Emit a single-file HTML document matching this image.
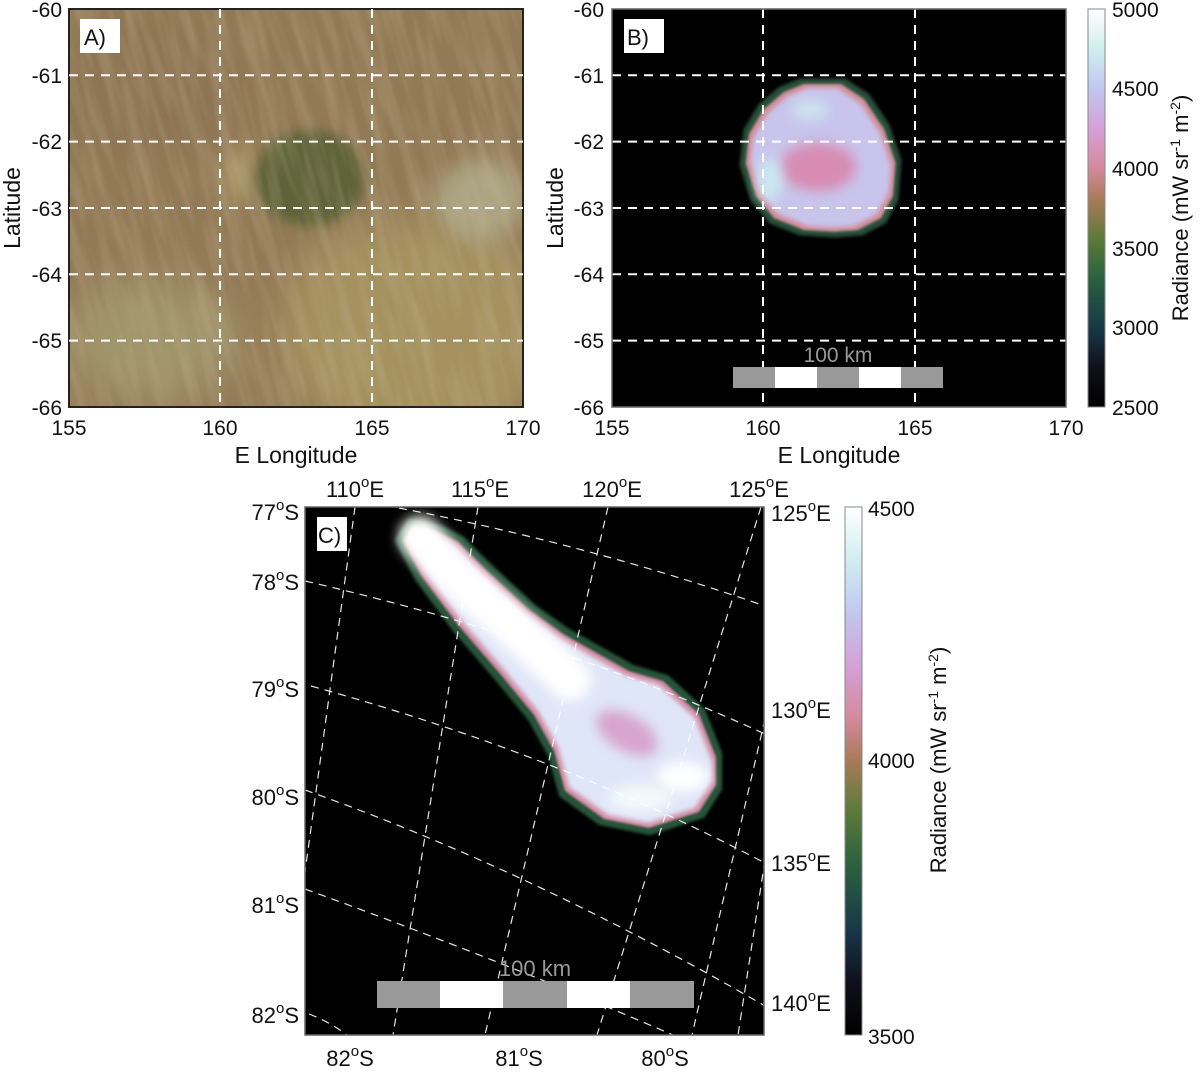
<!DOCTYPE html>
<html><head><meta charset="utf-8"><style>
html,body{margin:0;padding:0;background:#fff}
svg{display:block}
text{font-family:"Liberation Sans",Arial,sans-serif;fill:#111}
</style></head><body>
<svg width="1200" height="1073" viewBox="0 0 1200 1073" xmlns="http://www.w3.org/2000/svg">
<defs>
<filter id="b20" x="-50%" y="-50%" width="200%" height="200%"><feGaussianBlur stdDeviation="20"/></filter>
<filter id="b10" x="-50%" y="-50%" width="200%" height="200%"><feGaussianBlur stdDeviation="10"/></filter>
<filter id="b6" x="-50%" y="-50%" width="200%" height="200%"><feGaussianBlur stdDeviation="6"/></filter>
<filter id="b2" x="-20%" y="-20%" width="140%" height="140%"><feGaussianBlur stdDeviation="1.5"/></filter>
<filter id="er6" x="-20%" y="-20%" width="140%" height="140%"><feMorphology operator="erode" radius="8"/><feGaussianBlur stdDeviation="2.5"/></filter>
<filter id="er3" x="-20%" y="-20%" width="140%" height="140%"><feMorphology operator="erode" radius="4"/><feGaussianBlur stdDeviation="1.2"/></filter>
<filter id="streak" x="0" y="0" width="100%" height="100%">
<feTurbulence type="fractalNoise" baseFrequency="0.09 0.012" numOctaves="2" seed="3"/>
<feColorMatrix type="matrix" values="0 0 0 0 0.6  0 0 0 0 0.5  0 0 0 0 0.35  0 0 0 1.2 -0.45"/>
</filter>
<clipPath id="cA"><rect x="69" y="9" width="454" height="398"/></clipPath>
<clipPath id="cB"><rect x="612" y="9" width="454" height="398"/></clipPath>
<clipPath id="cC"><rect x="305" y="507" width="459" height="528"/></clipPath>
<linearGradient id="cbB" x1="0" y1="1" x2="0" y2="0">
<stop offset="0" stop-color="#000"/>
<stop offset="0.1" stop-color="#10101c"/>
<stop offset="0.2" stop-color="#183848"/>
<stop offset="0.32" stop-color="#2a6040"/>
<stop offset="0.42" stop-color="#5a7a38"/>
<stop offset="0.52" stop-color="#a87a58"/>
<stop offset="0.6" stop-color="#d48a9c"/>
<stop offset="0.7" stop-color="#d6a0d8"/>
<stop offset="0.8" stop-color="#c0c8f0"/>
<stop offset="0.9" stop-color="#d0eef0"/>
<stop offset="1" stop-color="#ffffff"/>
</linearGradient>
</defs>

<!-- Panel A -->
<g clip-path="url(#cA)">
<rect x="69" y="9" width="454" height="398" fill="#937a56"/>
<ellipse cx="420" cy="330" rx="140" ry="110" fill="#a5925e" filter="url(#b20)"/>
<ellipse cx="150" cy="340" rx="90" ry="60" fill="#a0946a" filter="url(#b20)"/>
<ellipse cx="480" cy="200" rx="45" ry="40" fill="#aca482" filter="url(#b10)"/>
<ellipse cx="240" cy="175" rx="16" ry="28" fill="#ad9a6c" filter="url(#b10)"/>
<ellipse cx="150" cy="90" rx="90" ry="70" fill="#8e7452" filter="url(#b20)"/>
<ellipse cx="310" cy="178" rx="55" ry="48" fill="#5e6339" filter="url(#b6)"/>
<g transform="rotate(-15 296 208)"><rect x="0" y="-100" width="600" height="600" filter="url(#streak)" opacity="0.5"/></g>
</g>
<rect x="69" y="9" width="454" height="398" fill="none" stroke="#222" stroke-width="2"/>
<g stroke="#fff" stroke-width="2" stroke-dasharray="9 7" fill="none">
<line x1="220" y1="9" x2="220" y2="407"/><line x1="372" y1="9" x2="372" y2="407"/>
<line x1="69" y1="75.3" x2="523" y2="75.3"/><line x1="69" y1="141.6" x2="523" y2="141.6"/>
<line x1="69" y1="208" x2="523" y2="208"/><line x1="69" y1="274.3" x2="523" y2="274.3"/>
<line x1="69" y1="340.6" x2="523" y2="340.6"/>
</g>
<rect x="80" y="19" width="40" height="34" fill="#fff"/>
<text x="84" y="45" font-size="22">A)</text>
<g font-size="21" text-anchor="end">
<text x="62" y="17">-60</text><text x="62" y="83">-61</text><text x="62" y="149">-62</text>
<text x="62" y="216">-63</text><text x="62" y="282">-64</text><text x="62" y="348">-65</text><text x="62" y="415">-66</text>
</g>
<g font-size="21" text-anchor="middle">
<text x="69" y="435">155</text><text x="220" y="435">160</text><text x="372" y="435">165</text><text x="523" y="435">170</text>
</g>
<text x="296" y="463" font-size="23" text-anchor="middle">E Longitude</text>
<text transform="translate(20,208) rotate(-90)" font-size="23" text-anchor="middle">Latitude</text>

<!-- Panel B -->
<rect x="612" y="9" width="454" height="398" fill="#000"/>
<g clip-path="url(#cB)">
<path id="blob" d="M800,80 L845,80 L868,95 L888,125 L900,160 L897,200 L885,222 L862,234 L835,236 L800,234 L770,222 L752,200 L741,165 L745,130 L760,105 L780,88 Z" fill="#27523a" stroke="#2a4a38" stroke-width="3" filter="url(#b2)"/>
<path d="M800,80 L845,80 L868,95 L888,125 L900,160 L897,200 L885,222 L862,234 L835,236 L800,234 L770,222 L752,200 L741,165 L745,130 L760,105 L780,88 Z" fill="#d28c96" filter="url(#er3)"/>
<path d="M800,80 L845,80 L868,95 L888,125 L900,160 L897,200 L885,222 L862,234 L835,236 L800,234 L770,222 L752,200 L741,165 L745,130 L760,105 L780,88 Z" fill="#c8c4ec" filter="url(#er6)"/>
<ellipse cx="818" cy="167" rx="38" ry="24" fill="#d88cb4" filter="url(#b6)"/>
<ellipse cx="770" cy="180" rx="12" ry="22" fill="#cce8f0" filter="url(#b6)"/>
<ellipse cx="810" cy="110" rx="18" ry="10" fill="#cce4f0" filter="url(#b6)"/>
</g>
<g stroke="#fff" stroke-width="2" stroke-dasharray="9 7" fill="none">
<line x1="763" y1="9" x2="763" y2="407"/><line x1="915" y1="9" x2="915" y2="407"/>
<line x1="612" y1="75.3" x2="1066" y2="75.3"/><line x1="612" y1="141.6" x2="1066" y2="141.6"/>
<line x1="612" y1="208" x2="1066" y2="208"/><line x1="612" y1="274.3" x2="1066" y2="274.3"/>
<line x1="612" y1="340.6" x2="1066" y2="340.6"/>
</g>
<rect x="733" y="367" width="42" height="21" fill="#999"/><rect x="775" y="367" width="42" height="21" fill="#fff"/>
<rect x="817" y="367" width="42" height="21" fill="#999"/><rect x="859" y="367" width="42" height="21" fill="#fff"/>
<rect x="901" y="367" width="42" height="21" fill="#999"/>
<text x="838" y="362" font-size="21" text-anchor="middle" style="fill:#999">100 km</text>
<rect x="612" y="9" width="454" height="398" fill="none" stroke="#666" stroke-width="1.5"/>
<rect x="624" y="19" width="40" height="34" fill="#fff"/>
<text x="627" y="45" font-size="22">B)</text>
<g font-size="21" text-anchor="end">
<text x="604" y="17">-60</text><text x="604" y="83">-61</text><text x="604" y="149">-62</text>
<text x="604" y="216">-63</text><text x="604" y="282">-64</text><text x="604" y="348">-65</text><text x="604" y="415">-66</text>
</g>
<g font-size="21" text-anchor="middle">
<text x="612" y="435">155</text><text x="763" y="435">160</text><text x="915" y="435">165</text><text x="1066" y="435">170</text>
</g>
<text x="839" y="463" font-size="23" text-anchor="middle">E Longitude</text>
<text transform="translate(563,208) rotate(-90)" font-size="23" text-anchor="middle">Latitude</text>
<rect x="1088" y="9" width="17" height="398" fill="url(#cbB)" stroke="#888" stroke-width="1"/>
<g font-size="21">
<text x="1112" y="17">5000</text><text x="1112" y="96">4500</text><text x="1112" y="176">4000</text>
<text x="1112" y="256">3500</text><text x="1112" y="335">3000</text><text x="1112" y="415">2500</text>
</g>
<text transform="translate(1188,208) rotate(-90)" font-size="22" text-anchor="middle">Radiance (mW sr<tspan font-size="14" dy="-8">-1</tspan><tspan dy="8"> m</tspan><tspan font-size="14" dy="-8">-2</tspan><tspan dy="8">)</tspan></text>

<!-- Panel C -->
<rect x="305" y="507" width="459" height="528" fill="#000"/>
<g clip-path="url(#cC)">
<path d="M410,521 L440,527 L462,538 L490,566 L533,606 L567,630 L633,667 L667,677 L703,710 L720,753 L720,789 L703,816 L650,833 L600,823 L561,795 L550,755 L530,719 L497,679 L454,629 L417,579 L397,540 Z" fill="#244e36" stroke="#2a5a3c" stroke-width="4" filter="url(#b2)"/>
<path d="M410,521 L440,527 L462,538 L490,566 L533,606 L567,630 L633,667 L667,677 L703,710 L720,753 L720,789 L703,816 L650,833 L600,823 L561,795 L550,755 L530,719 L497,679 L454,629 L417,579 L397,540 Z" fill="#d48ca4" filter="url(#er3)"/>
<path d="M410,521 L440,527 L462,538 L490,566 L533,606 L567,630 L633,667 L667,677 L703,710 L720,753 L720,789 L703,816 L650,833 L600,823 L561,795 L550,755 L530,719 L497,679 L454,629 L417,579 L397,540 Z" fill="#dfe6f8" filter="url(#er6)"/>
<polyline points="420,537 460,580 520,633 570,680" fill="none" stroke="#fff" stroke-width="42" stroke-linecap="round" filter="url(#b6)"/>
<ellipse cx="627" cy="733" rx="34" ry="18" transform="rotate(30 627 733)" fill="#d8a4d0" filter="url(#b6)"/>
<ellipse cx="683" cy="777" rx="26" ry="15" fill="#fff" filter="url(#b6)"/>
<ellipse cx="640" cy="798" rx="32" ry="13" fill="#f4fafa" filter="url(#b6)"/>
<g stroke="#fff" stroke-width="1.2" stroke-dasharray="8 6" fill="none" opacity="0.9">
<path d="M399,508 Q590,545 765,606"/>
<path d="M305,581 Q560,640 765,734"/>
<path d="M311,686 Q560,755 765,863"/>
<path d="M305,790 Q530,870 765,1006"/>
<path d="M305,889 Q500,960 673,1035"/>
<path d="M309,1014 Q330,1022 347,1035"/>
<line x1="355" y1="507" x2="305" y2="872"/>
<line x1="478" y1="507" x2="393" y2="1035"/>
<line x1="608" y1="507" x2="485" y2="1035"/>
<line x1="761" y1="507" x2="597" y2="1035"/>
<line x1="765" y1="719" x2="692" y2="1035"/>
<line x1="765" y1="860" x2="738" y2="1035"/>
</g>
</g>
<rect x="377" y="981" width="63" height="27" fill="#999"/><rect x="440" y="981" width="63" height="27" fill="#fff"/>
<rect x="503" y="981" width="64" height="27" fill="#999"/><rect x="567" y="981" width="63" height="27" fill="#fff"/>
<rect x="630" y="981" width="64" height="27" fill="#999"/>
<text x="535" y="976" font-size="22" text-anchor="middle" style="fill:#999">100 km</text>
<rect x="305" y="507" width="459" height="528" fill="none" stroke="#666" stroke-width="1.5"/>
<rect x="317" y="517" width="30" height="34" fill="#fff"/>
<text x="318" y="543" font-size="22">C)</text>
<g font-size="22" text-anchor="end">
<text x="299" y="520">77<tspan font-size="15" dy="-10">o</tspan><tspan dy="10">S</tspan></text>
<text x="299" y="590">78<tspan font-size="15" dy="-10">o</tspan><tspan dy="10">S</tspan></text>
<text x="299" y="697">79<tspan font-size="15" dy="-10">o</tspan><tspan dy="10">S</tspan></text>
<text x="299" y="805">80<tspan font-size="15" dy="-10">o</tspan><tspan dy="10">S</tspan></text>
<text x="299" y="913">81<tspan font-size="15" dy="-10">o</tspan><tspan dy="10">S</tspan></text>
<text x="299" y="1023">82<tspan font-size="15" dy="-10">o</tspan><tspan dy="10">S</tspan></text>
</g>
<g font-size="22" text-anchor="middle">
<text x="355" y="497">110<tspan font-size="15" dy="-10">o</tspan><tspan dy="10">E</tspan></text>
<text x="480" y="497">115<tspan font-size="15" dy="-10">o</tspan><tspan dy="10">E</tspan></text>
<text x="612" y="497">120<tspan font-size="15" dy="-10">o</tspan><tspan dy="10">E</tspan></text>
<text x="759" y="497">125<tspan font-size="15" dy="-10">o</tspan><tspan dy="10">E</tspan></text>
<text x="350" y="1066">82<tspan font-size="15" dy="-10">o</tspan><tspan dy="10">S</tspan></text>
<text x="519" y="1066">81<tspan font-size="15" dy="-10">o</tspan><tspan dy="10">S</tspan></text>
<text x="665" y="1066">80<tspan font-size="15" dy="-10">o</tspan><tspan dy="10">S</tspan></text>
</g>
<g font-size="22">
<text x="771" y="521">125<tspan font-size="15" dy="-10">o</tspan><tspan dy="10">E</tspan></text>
<text x="771" y="718">130<tspan font-size="15" dy="-10">o</tspan><tspan dy="10">E</tspan></text>
<text x="771" y="871">135<tspan font-size="15" dy="-10">o</tspan><tspan dy="10">E</tspan></text>
<text x="771" y="1011">140<tspan font-size="15" dy="-10">o</tspan><tspan dy="10">E</tspan></text>
</g>
<rect x="845" y="507" width="17" height="528" fill="url(#cbB)" stroke="#888" stroke-width="1"/>
<g font-size="21">
<text x="868" y="516">4500</text><text x="868" y="768">4000</text><text x="868" y="1044">3500</text>
</g>
<text transform="translate(946,760) rotate(-90)" font-size="22" text-anchor="middle">Radiance (mW sr<tspan font-size="14" dy="-8">-1</tspan><tspan dy="8"> m</tspan><tspan font-size="14" dy="-8">-2</tspan><tspan dy="8">)</tspan></text>
</svg>
</body></html>
